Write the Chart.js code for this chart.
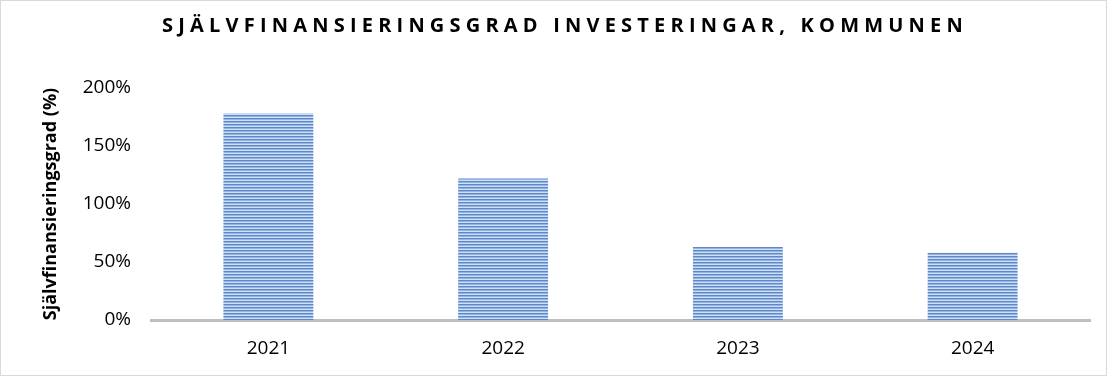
<!DOCTYPE html>
<html>
<head>
<meta charset="utf-8">
<script src="https://cdn.jsdelivr.net/npm/chart.js@4"></script>
<style>
  html, body { margin: 0; padding: 0; background: #fff; }
  #wrap { width: 1105px; height: 374px; border: 1px solid #d9d9d9; position: relative; }
</style>
</head>
<body>
<div id="wrap"><canvas id="barCanvas"></canvas></div>
<script>
const years = ["2021", "2022", "2023", "2024"];
const selfFinancing = [178, 122, 63, 58];
const yTicks = [0, 50, 100, 150, 200];
const titleText = "SJÄLVFINANSIERINGSGRAD INVESTERINGAR, KOMMUNEN";
const yTitle = "Självfinansieringsgrad (%)";

const FONT = "'Open Sans', sans-serif";

// striped fill for the bars
function makeStripes(ctx) {
  const c = document.createElement("canvas");
  c.width = 4;
  c.height = 3;
  const p = c.getContext("2d");
  p.fillStyle = "#5e88c8";
  p.fillRect(0, 0, 4, 1);
  p.fillStyle = "#93b4e2";
  p.fillRect(0, 1, 4, 1);
  p.fillStyle = "#cfe0f5";
  p.fillRect(0, 2, 4, 1);
  return ctx.createPattern(c, "repeat");
}

// wide-spaced title drawn by hand, Chart.js title has no letter spacing
const titlePlugin = {
  id: "spaced_title",
  afterDraw: (chart) => {
    const { ctx } = chart;
    ctx.save();
    ctx.font = "bold 20px " + FONT;
    ctx.letterSpacing = "5.2px";
    ctx.fillStyle = "#000";
    ctx.textAlign = "center";
    ctx.textBaseline = "middle";
    ctx.fillText(titleText, 564, 25);
    ctx.restore();
  },
};

const canvas = document.getElementById("barCanvas");
const ctx = canvas.getContext("2d");

new Chart(ctx, {
  type: "bar",
  data: {
    labels: years,
    datasets: [
      {
        data: selfFinancing,
        backgroundColor: makeStripes(ctx),
        borderWidth: 0,
        categoryPercentage: 1,
        barPercentage: 0.383,
      },
    ],
  },
  options: {
    responsive: true,
    maintainAspectRatio: false,
    animation: false,
    layout: {
      padding: { top: 87, right: 16, bottom: 0, left: 39 },
    },
    plugins: {
      legend: { display: false },
      tooltip: { enabled: false },
    },
    scales: {
      x: {
        grid: { display: false, drawTicks: false },
        border: { display: true, color: "#bfbfbf", width: 3 },
        ticks: {
          font: { family: FONT, size: 19 },
          color: "#000",
          padding: 17,
        },
        afterFit: (axis) => {
          axis.height = 55;
        },
      },
      y: {
        min: 0,
        max: 200,
        afterBuildTicks: (axis) => {
          axis.ticks = yTicks.map((v) => ({ value: v }));
        },
        grid: { display: false, drawTicks: false },
        border: { display: false },
        ticks: {
          font: { family: FONT, size: 19 },
          color: "#000",
          padding: 20,
          callback: (v) => v + "%",
        },
        title: {
          display: true,
          text: yTitle,
          font: { family: FONT, size: 18, weight: "bold" },
          color: "#000",
          padding: { top: 0, bottom: 0 },
        },
        afterFit: (axis) => {
          axis.width = 150 - 39;
        },
      },
    },
  },
  plugins: [titlePlugin],
});
</script>
</body>
</html>
